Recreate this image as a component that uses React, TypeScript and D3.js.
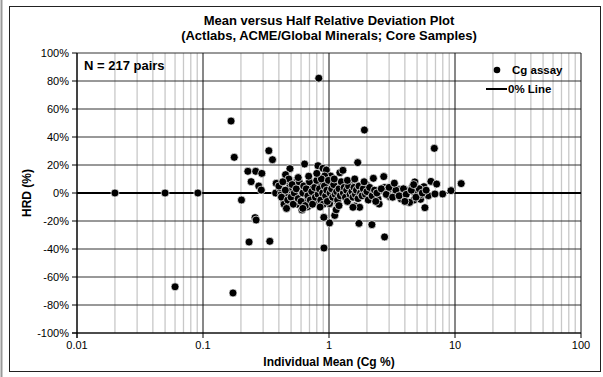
import React from "react";
import * as d3 from "d3";

const titleLines = ["Mean versus Half Relative Deviation Plot", "(Actlabs, ACME/Global Minerals; Core Samples)"];
const xTicks = [0.01, 0.1, 1, 10, 100];
const xTickLabels = ["0.01", "0.1", "1", "10", "100"];
const yTicks = [-100, -80, -60, -40, -20, 0, 20, 40, 60, 80, 100];
const zeroLineX = [0.01, 100];
const zeroLineY = [0, 0];

// Individual mean (Cg %)
const meanValues = [
  0.167, 0.177, 0.091, 0.202, 0.333, 0.356, 0.227, 0.262, 0.293, 0.241, 0.277, 0.29, 0.259, 0.264, 0.232, 0.339, 0.912,
  1.91, 6.85, 11.2, 9.29, 7.98, 5.77, 2.76, 2.19, 1.73, 1.01, 0.91, 1.11, 1.14, 0.64, 0.817, 0.895, 0.953, 1.69, 1.22,
  1.29, 1.03, 0.49, 0.452, 0.381, 0.377, 0.56, 0.486, 0.68, 0.853, 1.6, 1.36, 2.25, 2.72, 4.8, 6.44, 7.15, 2.0, 2.77,
  2.53, 3.54, 4.25, 4.6, 5.17, 5.67, 6.14, 5.33, 4.72, 4.36, 3.74, 3.31, 2.95, 2.45, 2.5, 2.11, 1.9, 1.67, 1.46, 1.33,
  1.6, 1.75, 1.14, 1.11, 1.06, 1.18, 0.99, 0.88, 0.9, 0.79, 0.76, 0.67, 0.65, 0.585, 0.54, 0.567, 0.61, 0.676, 0.5,
  0.466, 0.438, 0.457, 0.417, 0.486, 0.924, 1.03, 1.28, 1.5, 1.81, 2.04, 2.24, 3.04, 3.77, 5.43, 6.93, 4.8, 1.55, 1.01,
  0.72, 0.6, 0.405,
  0.02, 0.05, 0.06, 0.173, 0.83,
  0.4, 0.42, 0.44, 0.45, 0.47, 0.48, 0.5, 0.51, 0.52, 0.53, 0.43, 0.46,
  0.55, 0.57, 0.58, 0.6, 0.62, 0.63, 0.65, 0.66, 0.68, 0.7, 0.71, 0.73, 0.74, 0.57, 0.62, 0.69,
  0.77, 0.78, 0.8, 0.82, 0.84, 0.86, 0.87, 0.89, 0.9, 0.92, 0.94, 0.96, 0.97, 0.99, 0.8, 0.85,
  1.02, 1.05, 1.07, 1.09, 1.12, 1.15, 1.17, 1.2, 1.23, 1.25, 1.3, 1.32, 1.35, 1.38, 1.4, 1.43, 1.47, 1.1, 1.2, 1.4,
  1.52, 1.55, 1.58, 1.62, 1.65, 1.7, 1.73, 1.78, 1.83, 1.87, 1.95, 2.0, 2.05, 2.1, 2.2, 2.3, 2.35, 2.4, 1.6, 1.9,
  2.6, 2.85, 3.0, 3.2, 3.4, 3.6, 3.9, 4.1, 4.5, 4.9, 5.2, 5.5, 3.3, 4.0, 4.7, 5.9,
];
// Half relative deviation (%)
const hrdValues = [
  51.4, 25.5, 0, -5, 30.2, 23.8, 15.5, 15.5, 14, 8.1, 5, 2.1, -17.6, -19.3, -35, -34.5, -39.3,
  45, 31.9, 6.7, 1.7, -0.7, -10.5, -31.4, -22.6, -21.7, -21.4, -17.4, -16, -12, 20.7, 19.5, 17.6, 16.4, 21.7, 14.5,
  16.2, 12.1, 17.4, 13.1, 6.9, 0, 9.8, 7.4, 6.2, 7.4, 7.6, 7.6, 10.5, 11.7, 7.9, 8.3, 6.4, 5.5, 4,
  1.7, 2.6, 1.7, 4.5, 1.4, 4.5, -1.9, -4.5, -5, -6.7, -4.3, -1.2, 2.1, -4.3, -7.9, -1.4, 1, -0.7, 0.2, -1,
  -9.3, -10.2, 3.3, -0.7, -4, -7.4, -2.6, 2.1, -5, -6.2, -0.2, -4, -0.7, 4.5, -1.9, -8.1, -12.1, -9.8, 1,
  -2.6, -6.9, -9.8, -1, 4, 12.1, 6.9, 4.5, 2.6, 2.1, 2.1, 0.5, -2.6, 1, -1, -0.7, -0.2, -10.2, -7.6,
  3.3, 2.6, 3.8,
  0, 0, -67, -71.4, 82,
  5, -3, -8, 2, -5, 10, -3, 6, -8, 0, 8, -11,
  3, -4, 8, -6, 0, 5, -9, 3, -2, 8, -5, 1, -8, 11, -11, 12,
  4, -3, 9, -1, 3, -5, 10, 0, -8, 5, -2, 2, -6, 9, 14, -10,
  0, 3, -3, 6, -1, 1, -5, 3, -2, 8, 0, 4, -3, 2, -6, 5, -1, 10, -9, 9,
  1, -3, 4, -1, 2, -4, 5, 0, -2, 3, -1, 1, -5, 4, -2, 2, -6, 0, 10, 8,
  3, -1, 4, -3, 2, -2, 3, -1, 2, -3, 3, 0, 7, -6, 6, 2,
];

const W = 603;
const H = 377;
const M = { left: 77, right: 581, top: 53, bottom: 333 };

export default function App() {
  const x = d3.scaleLog().domain([0.01, 100]).range([M.left, M.right]);
  const y = d3.scaleLinear().domain([-100, 100]).range([M.bottom, M.top]);

  const minor: number[] = [];
  for (let d = 0.01; d < 100; d *= 10) {
    for (let k = 2; k <= 9; k++) minor.push(+(d * k).toPrecision(3));
  }
  const lineGen = d3
    .line<number>()
    .x((_, i) => x(zeroLineX[i]))
    .y((_, i) => y(zeroLineY[i]));

  const font = "'Liberation Sans', Arial, sans-serif";
  const pts = meanValues.map((m, i) => ({ m, h: hrdValues[i] }));

  return (
    <svg width={W} height={H} style={{ position: "absolute", left: 0, top: 0, background: "#fff" }} fontFamily={font}>
      <rect x={0} y={0} width={W} height={H} fill="#fff" />
      <line x1={1.5} y1={0} x2={1.5} y2={H} stroke="#999" strokeWidth={2} />
      <rect x={9.5} y={6.5} width={591} height={365} fill="#fff" stroke="#222" strokeWidth={1} />
      {titleLines.map((t, i) => (
        <text key={i} x={(M.left + M.right) / 2} y={25 + i * 15} textAnchor="middle" fontSize={13} fontWeight="bold">
          {t}
        </text>
      ))}
      {/* minor vertical grid */}
      {minor.map((v) => (
        <line key={"mn" + v} x1={x(v)} x2={x(v)} y1={M.top} y2={M.bottom} stroke="#c8c8c8" strokeWidth={1.3} />
      ))}
      {/* horizontal grid */}
      {yTicks.map((v) => (
        <line key={"h" + v} x1={M.left} x2={M.right} y1={y(v)} y2={y(v)} stroke="#333" strokeWidth={1} />
      ))}
      {/* major vertical */}
      {xTicks.map((v) => (
        <line key={"mj" + v} x1={x(v)} x2={x(v)} y1={M.top} y2={M.bottom} stroke="#111" strokeWidth={1} />
      ))}
      {/* axes */}
      <line x1={M.left} x2={M.left} y1={M.top} y2={M.bottom + 5} stroke="#000" strokeWidth={1} />
      <line x1={M.left - 5} x2={M.right} y1={M.bottom} y2={M.bottom} stroke="#000" strokeWidth={1} />
      {yTicks.map((v) => (
        <g key={"yt" + v}>
          <line x1={M.left - 5} x2={M.left} y1={y(v)} y2={y(v)} stroke="#000" />
          <text x={M.left - 8} y={y(v) + 4} textAnchor="end" fontSize={11}>
            {v + "%"}
          </text>
        </g>
      ))}
      {xTicks.map((v, i) => (
        <g key={"xt" + v}>
          <line x1={x(v)} x2={x(v)} y1={M.bottom} y2={M.bottom + 5} stroke="#000" />
          <text x={x(v)} y={M.bottom + 16} textAnchor="middle" fontSize={11}>
            {xTickLabels[i]}
          </text>
        </g>
      ))}
      <text x={(M.left + M.right) / 2} y={M.bottom + 33} textAnchor="middle" fontSize={12} fontWeight="bold">
        Individual Mean (Cg %)
      </text>
      <text
        transform={`translate(31,${(M.top + M.bottom) / 2}) rotate(-90)`}
        textAnchor="middle"
        fontSize={12}
        fontWeight="bold"
      >
        HRD (%)
      </text>
      {/* 0% line */}
      <path d={lineGen(zeroLineX) || ""} stroke="#000" strokeWidth={2.2} fill="none" />
      {/* points */}
      {pts.map((p, i) => (
        <circle key={i} cx={x(p.m)} cy={y(p.h)} r={4} fill="#000" stroke="#fff" strokeWidth={0.7} />
      ))}
      <text x={84} y={70} fontSize={13} fontWeight="bold">
        N = 217 pairs
      </text>
      {/* legend */}
      <circle cx={497} cy={70} r={3.3} fill="#000" />
      <text x={512} y={74} fontSize={11.5} fontWeight="bold">
        Cg assay
      </text>
      <line x1={486} x2={507} y1={89} y2={89} stroke="#000" strokeWidth={2} />
      <text x={508} y={93} fontSize={11.5} fontWeight="bold">
        0% Line
      </text>
    </svg>
  );
}
